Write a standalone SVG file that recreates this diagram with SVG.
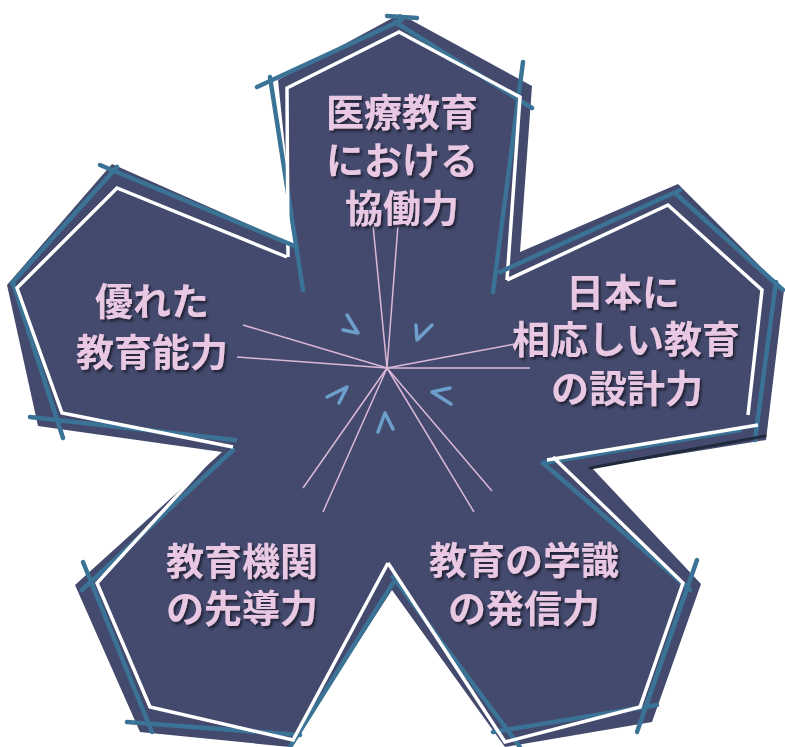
<svg xmlns="http://www.w3.org/2000/svg" width="785" height="747" viewBox="0 0 785 747">
<defs>
<filter id="sh" x="-10%" y="-10%" width="130%" height="140%">
<feDropShadow dx="2" dy="2.5" stdDeviation="1.2" flood-color="#1c1d30" flood-opacity="0.9"/>
</filter>
<style>
.fill{fill:#444a6d}
.wl{fill:none;stroke:#ffffff;stroke-width:3.5;stroke-linejoin:miter}
.bl{stroke:#3b7396;stroke-width:4.5;stroke-linecap:round}
.dk{stroke:#1f2b3c;stroke-width:3;stroke-linecap:round}
.ray{stroke:#dcb8d8;stroke-width:1.5}
.chev{fill:none;stroke:#6d9fcc;stroke-width:3.5;stroke-linecap:round;stroke-linejoin:round}
.lbl{font-family:"Liberation Sans","Noto Sans CJK JP","Noto Sans CJK SC",sans-serif;font-weight:bold;font-size:38px;fill:#e8c8e2;text-anchor:middle;filter:url(#sh)}
</style>
</defs>
<rect width="785" height="747" fill="#ffffff"/>
<polygon class="fill" points="400,14 532,86 520,252 678,184 784,290 766,440 592,468 701,584 652,722 505,747 392,590 290,747 140,732 75,585 222,452 38,426 7,285 112,164 295,245 278,80"/>

<g id="connectors">
<line class="ray" x1="387" y1="368" x2="373" y2="225"/>
<line class="ray" x1="387" y1="368" x2="398" y2="225"/>
<line class="ray" x1="387" y1="368" x2="243" y2="325"/>
<line class="ray" x1="387" y1="368" x2="237" y2="357"/>
<line class="ray" x1="387" y1="368" x2="515" y2="344"/>
<line class="ray" x1="387" y1="368" x2="530" y2="368"/>
<line class="ray" x1="387" y1="368" x2="303" y2="488"/>
<line class="ray" x1="387" y1="368" x2="323" y2="512"/>
<line class="ray" x1="387" y1="368" x2="492" y2="491"/>
<line class="ray" x1="387" y1="368" x2="474" y2="512"/>
<path class="chev" d="M347,315 L358,333 L343,330"/>
<path class="chev" d="M416,325 L417,340 L432,325"/>
<path class="chev" d="M327,397 L347,387 L339,403"/>
<path class="chev" d="M450,388 L432,392 L451,404"/>
<path class="chev" d="M378,432 L385,413 L393,429"/>
</g>

<g id="node-top">
<line class="bl" x1="257" y1="87" x2="402" y2="20"/>
<line class="bl" x1="387" y1="16" x2="417" y2="18"/>
<line class="bl" x1="395" y1="22" x2="532" y2="108"/>
<line class="bl" x1="270" y1="77" x2="303" y2="290"/>
<line class="bl" x1="523" y1="62" x2="493" y2="292"/>
<polyline class="wl" points="288,257 287,88 399,32 520,97 507,280"/>
<text class="lbl" x="402" y="126">医療教育</text>
<text class="lbl" x="402" y="174">における</text>
<text class="lbl" x="402" y="222">協働力</text>
</g>

<g id="node-right">
<line class="bl" x1="500" y1="272" x2="680" y2="190"/>
<line class="bl" x1="675" y1="193" x2="783" y2="290"/>
<line class="bl" x1="776" y1="282" x2="755" y2="440"/>
<line class="bl" x1="543" y1="463" x2="740" y2="430"/>
<line class="dk" x1="590" y1="468" x2="765" y2="436"/>
<polyline class="wl" points="507,280 668,205 762,290 748,415"/>
<line class="wl" x1="547" y1="460" x2="758" y2="425"/>
<text class="lbl" x="623" y="306">日本に</text>
<text class="lbl" x="626" y="353">相応しい教育</text>
<text class="lbl" x="627" y="402">の設計力</text>
</g>

<g id="node-lower-right">
<line class="bl" x1="543" y1="463" x2="690" y2="590"/>
<line class="bl" x1="697" y1="560" x2="637" y2="732"/>
<line class="bl" x1="493" y1="732" x2="657" y2="705"/>
<line class="bl" x1="393" y1="577" x2="520" y2="747"/>
<polyline class="wl" points="388,563 505,742 640,707 683,583 553,457"/>
<text class="lbl" x="524" y="574">教育の学識</text>
<text class="lbl" x="524" y="622">の発信力</text>
</g>

<g id="node-lower-left">
<line class="bl" x1="393" y1="583" x2="290" y2="747"/>
<line class="bl" x1="127" y1="722" x2="300" y2="735"/>
<line class="bl" x1="83" y1="562" x2="152" y2="732"/>
<line class="bl" x1="82" y1="590" x2="233" y2="450"/>
<polyline class="wl" points="388,563 293,740 150,707 97,583 217,452"/>
<text class="lbl" x="242" y="575">教育機関</text>
<text class="lbl" x="242" y="622">の先導力</text>
</g>

<g id="node-left">
<line class="bl" x1="30" y1="417" x2="235" y2="440"/>
<line class="bl" x1="13" y1="283" x2="63" y2="438"/>
<line class="bl" x1="12" y1="283" x2="117" y2="167"/>
<line class="bl" x1="100" y1="165" x2="297" y2="247"/>
<polyline class="wl" points="233,447 62,413 17,288 117,188 287,257"/>
<text class="lbl" x="152" y="315">優れた</text>
<text class="lbl" x="152" y="366">教育能力</text>
</g>
</svg>
